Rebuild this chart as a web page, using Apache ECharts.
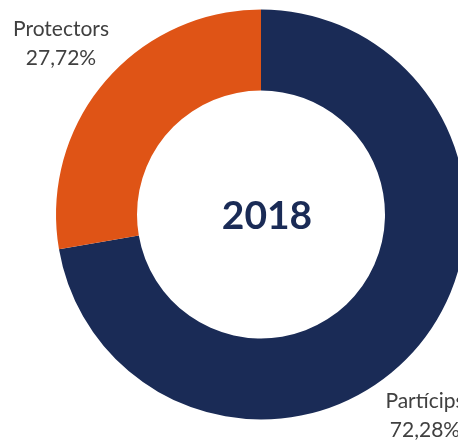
<!DOCTYPE html>
<html>
<head>
<meta charset="utf-8">
<script src="https://cdn.jsdelivr.net/npm/echarts@6/dist/echarts.min.js"></script>
<style>
  html, body { margin: 0; padding: 0; background: #ffffff; }
  #chart { width: 458px; height: 443px; }
</style>
</head>
<body>
<div id="chart"></div>
<script>
// Shares by group, 2018
const categories = ['Partícips', 'Protectors'];
const shares = [72.28, 27.72];
const yearLabel = '2018';

const colors = ['#1a2b56', '#df5416'];
// Where each slice label sits (centre of the two-line text block)
const labelSpots = [[425, 416], [61, 44]];

const chart = echarts.init(document.getElementById('chart'), null, { renderer: 'canvas' });

chart.setOption({
  animation: false,
  backgroundColor: '#ffffff',
  graphic: [{
    type: 'text',
    x: 267,
    y: 216,
    style: {
      text: yearLabel,
      fill: '#1a2b56',
      font: 'bold 39px "Lato", "Liberation Sans", sans-serif',
      align: 'center',
      verticalAlign: 'middle'
    }
  }],
  series: [{
    type: 'pie',
    center: [261, 214.5],
    radius: [124, 205],
    startAngle: 90,
    clockwise: true,
    avoidLabelOverlap: false,
    itemStyle: { borderWidth: 0 },
    emphasis: { disabled: true },
    labelLine: { show: false },
    label: {
      show: true,
      position: 'outside',
      color: '#404040',
      fontFamily: 'Lato, "Liberation Sans", sans-serif',
      fontSize: 21,
      lineHeight: 29,
      align: 'center',
      formatter: function (p) {
        return p.name + '\n' + p.value.toFixed(2).replace('.', ',') + '%';
      }
    },
    labelLayout: function (params) {
      const s = labelSpots[params.dataIndex];
      return { x: s[0], y: s[1], align: 'center', verticalAlign: 'middle', hideOverlap: false };
    },
    data: categories.map(function (name, i) {
      return { name: name, value: shares[i], itemStyle: { color: colors[i] } };
    })
  }]
});
</script>
</body>
</html>
